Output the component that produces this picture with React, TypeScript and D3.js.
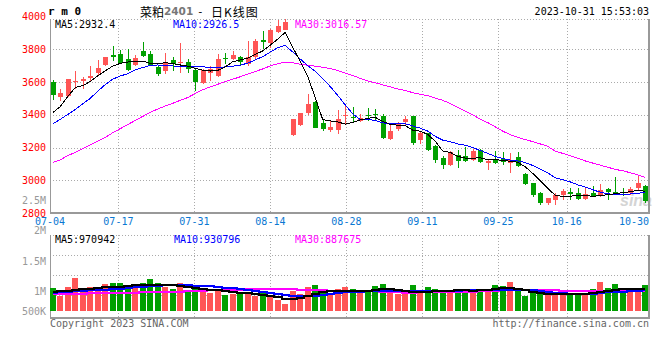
import { useEffect, useRef } from 'react'
import * as d3 from 'd3'

const dates = [
  '07-04', '07-05', '07-06', '07-07', '07-10', '07-11', '07-12', '07-13', '07-14', '07-17',
  '07-18', '07-19', '07-20', '07-21', '07-24', '07-25', '07-26', '07-27', '07-28', '07-31',
  '08-01', '08-02', '08-03', '08-04', '08-07', '08-08', '08-09', '08-10', '08-11', '08-14',
  '08-15', '08-16', '08-17', '08-18', '08-21', '08-22', '08-23', '08-24', '08-25', '08-28',
  '08-29', '08-30', '08-31', '09-01', '09-04', '09-05', '09-06', '09-07', '09-08', '09-11',
  '09-12', '09-13', '09-14', '09-15', '09-18', '09-19', '09-20', '09-21', '09-22', '09-25',
  '09-26', '09-27', '09-28', '10-09', '10-10', '10-11', '10-12', '10-13', '10-16', '10-17',
  '10-18', '10-19', '10-20', '10-23', '10-24', '10-25', '10-26', '10-27', '10-30', '10-31',
]

const open = [
  3600, 3511, 3515, 3598, 3607, 3623, 3653, 3704, 3763, 3771,
  3743, 3702, 3788, 3771, 3690, 3668, 3735, 3714, 3723, 3674,
  3592, 3657, 3637, 3749, 3743, 3753, 3708, 3750, 3855, 3840,
  3907, 3917, 3276, 3337, 3408, 3479, 3347, 3306, 3306, 3390,
  3388, 3361, 3396, 3406, 3392, 3249, 3310, 3358, 3392, 3243,
  3286, 3209, 3134, 3093, 3154, 3148, 3123, 3184, 3107, 3127,
  3127, 3107, 3144, 3038, 2981, 2924, 2859, 2879, 2910, 2926,
  2924, 2883, 2924, 2904, 2944, 2930, 2930, 2920, 2951, 2965,
]
const high = [
  3611, 3556, 3620, 3668, 3633, 3698, 3733, 3755, 3820, 3796,
  3800, 3763, 3845, 3790, 3698, 3776, 3755, 3837, 3739, 3678,
  3682, 3698, 3769, 3780, 3790, 3759, 3850, 3865, 3910, 3922,
  3976, 3982, 3372, 3410, 3524, 3481, 3365, 3361, 3426, 3459,
  3447, 3402, 3439, 3433, 3402, 3351, 3357, 3390, 3394, 3300,
  3290, 3215, 3148, 3178, 3184, 3201, 3193, 3189, 3127, 3180,
  3174, 3168, 3174, 3042, 2985, 2930, 2893, 2920, 2944, 2950,
  2954, 2950, 2962, 2978, 2950, 3020, 2950, 2956, 3032, 2972,
]
const low = [
  3491, 3482, 3511, 3556, 3556, 3607, 3637, 3698, 3729, 3708,
  3668, 3698, 3755, 3698, 3637, 3647, 3668, 3657, 3653, 3546,
  3586, 3607, 3633, 3708, 3735, 3698, 3695, 3740, 3800, 3810,
  3901, 3915, 3270, 3330, 3396, 3317, 3300, 3296, 3284, 3341,
  3351, 3357, 3361, 3365, 3249, 3243, 3300, 3335, 3218, 3219,
  3178, 3107, 3068, 3087, 3077, 3113, 3119, 3107, 3062, 3099,
  3093, 3042, 3083, 2971, 2900, 2849, 2849, 2849, 2879, 2879,
  2879, 2879, 2900, 2900, 2879, 2916, 2904, 2910, 2942, 2862,
]
const close = [
  3519, 3531, 3617, 3604, 3619, 3635, 3688, 3753, 3755, 3714,
  3674, 3749, 3759, 3702, 3647, 3723, 3708, 3723, 3682, 3600,
  3674, 3678, 3739, 3743, 3763, 3723, 3755, 3850, 3846, 3920,
  3942, 3968, 3371, 3408, 3467, 3321, 3310, 3325, 3375, 3396,
  3378, 3382, 3390, 3396, 3255, 3300, 3351, 3374, 3225, 3290,
  3185, 3123, 3093, 3174, 3119, 3119, 3180, 3113, 3117, 3107,
  3113, 3123, 3087, 2977, 2910, 2863, 2889, 2910, 2936, 2916,
  2883, 2916, 2906, 2940, 2930, 2924, 2920, 2948, 2981, 2872,
]

const ma5 = [
  3413, 3450, 3511, 3566, 3578, 3603, 3638, 3668, 3697, 3714,
  3722, 3727, 3727, 3714, 3711, 3718, 3712, 3704, 3697, 3684,
  3672, 3667, 3671, 3692, 3724, 3735, 3745, 3768, 3790, 3825,
  3862, 3903, 3812, 3725, 3633, 3505, 3370, 3362, 3356, 3343,
  3353, 3368, 3378, 3384, 3359, 3341, 3336, 3334, 3306, 3300,
  3280, 3238, 3179, 3170, 3146, 3135, 3135, 3137, 3126, 3125,
  3122, 3116, 3110, 3082, 3042, 2996, 2952, 2907, 2902, 2903,
  2906, 2905, 2903, 2905, 2912, 2918, 2924, 2930, 2938, 2932.4,
]
const ma10 = [
  3345, 3372, 3402, 3432, 3467, 3500, 3544, 3584, 3617, 3637,
  3650, 3675, 3688, 3702, 3704, 3700, 3698, 3695, 3693, 3692,
  3692, 3690, 3688, 3692, 3697, 3703, 3715, 3735, 3755, 3783,
  3810, 3823, 3783, 3740, 3700, 3665, 3620, 3572, 3518, 3460,
  3405, 3370, 3370, 3366, 3350, 3348, 3349, 3345, 3332, 3318,
  3300, 3268, 3245, 3235, 3222, 3214, 3200, 3182, 3164, 3146,
  3132, 3123, 3118, 3108, 3090, 3068, 3045, 3015, 3004, 2990,
  2972, 2958, 2942, 2927, 2918, 2911, 2913, 2916, 2920, 2926.5,
]
const ma30 = [
  3108, 3125, 3150, 3170, 3192, 3215, 3240, 3262, 3290, 3315,
  3340, 3365, 3390, 3415, 3435, 3453, 3470, 3488, 3505, 3530,
  3553, 3570, 3586, 3602, 3617, 3632, 3648, 3664, 3680, 3698,
  3712, 3722, 3718, 3708, 3702, 3697, 3690, 3682, 3670, 3655,
  3640, 3622, 3606, 3596, 3582, 3570, 3558, 3548, 3535, 3525,
  3517, 3502, 3488, 3469, 3446, 3423, 3400, 3372, 3352, 3326,
  3300, 3278, 3262, 3248, 3236, 3222, 3207, 3178, 3164, 3150,
  3134, 3118, 3105, 3092, 3080, 3066, 3058, 3046, 3033, 3016.57,
]

// volume in thousand lots
const volume = [
  1014, 686, 1074, 1491, 940, 1074, 940, 1223, 1253, 1253,
  1163, 1119, 1253, 1432, 1253, 1074, 984, 1253, 910, 984,
  850, 820, 984, 716, 776, 746, 820, 656, 805, 671,
  492, 313, 910, 776, 1074, 1163, 940, 790, 984, 1074,
  984, 865, 940, 1119, 1223, 940, 776, 910, 1163, 865,
  1074, 984, 910, 865, 984, 984, 984, 910, 984, 1163,
  1119, 1298, 940, 686, 850, 940, 716, 820, 895, 790,
  790, 716, 984, 1298, 1029, 1223, 940, 910, 1029, 1163,
]
const volMa5 = [
  865, 880, 910, 954, 969, 999, 1044, 1059, 1059, 1089,
  1119, 1148, 1163, 1178, 1178, 1178, 1163, 1133, 1089, 1044,
  999, 954, 925, 880, 850, 820, 790, 746, 716, 656,
  611, 552, 552, 596, 671, 761, 835, 880, 880, 880,
  880, 895, 910, 940, 969, 969, 940, 880, 850, 835,
  850, 880, 910, 910, 925, 925, 910, 925, 954, 999,
  1014, 1029, 999, 940, 865, 820, 776, 761, 761, 761,
  761, 761, 790, 850, 910, 954, 984, 999, 999, 971,
]
const volMa10 = [
  820, 835, 850, 880, 910, 925, 940, 954, 984, 999,
  1029, 1059, 1089, 1119, 1133, 1148, 1148, 1148, 1148, 1133,
  1119, 1104, 1074, 1044, 1014, 969, 925, 880, 850, 790,
  746, 701, 671, 656, 656, 671, 716, 776, 820, 850,
  865, 865, 880, 880, 895, 910, 910, 910, 910, 910,
  910, 910, 895, 910, 910, 925, 925, 925, 940, 954,
  954, 954, 954, 954, 940, 910, 865, 820, 790, 776,
  761, 761, 776, 805, 835, 850, 865, 880, 895, 931,
]
const volMa30 = [
  761, 761, 776, 776, 776, 790, 790, 790, 805, 805,
  820, 820, 835, 835, 850, 850, 865, 865, 880, 895,
  910, 925, 940, 940, 954, 954, 969, 969, 969, 969,
  969, 969, 969, 954, 954, 940, 925, 910, 895, 880,
  880, 880, 880, 880, 865, 850, 835, 820, 820, 835,
  835, 835, 835, 835, 850, 850, 865, 880, 895, 910,
  925, 925, 925, 925, 925, 925, 925, 925, 910, 895,
  880, 880, 880, 880, 880, 880, 880, 880, 880, 888,
]

const priceTicks = [4000, 3800, 3600, 3400, 3200, 3000, 2800]
const volTicks = [2500, 2000, 1500, 1000, 500]
const volTickLabels = ['2.5M', '2M', '1.5M', '1M', '500K']
const dateTicks = ['07-04', '07-17', '07-31', '08-14', '08-28', '09-11', '09-25', '10-16', '10-30']

const RED = '#ff5555'
const GREEN = '#00a000'
const MONO = '"DejaVu Sans Mono", monospace'
const CJK = '"Noto Sans CJK SC", sans-serif'

export default function App() {
  const svgRef = useRef<SVGSVGElement>(null)

  useEffect(() => {
    if (!svgRef.current) return
    renderChart()
  }, [])

  const renderChart = () => {
    if (!svgRef.current) return
    const width = 660
    const height = 360
    const left = 50
    const right = 649
    const mainTop = 19
    const mainBottom = 213
    const volTop = 235
    const volBottom = 318

    const svg = d3.select(svgRef.current)
    svg.selectAll('*').remove()
    svg.attr('width', width).attr('height', height).attr('viewBox', [0, 0, width, height])

    svg.append('rect').attr('width', width).attr('height', height).attr('fill', '#fff')

    const x = d3.scaleBand<string>().domain(dates).range([49, 649]).padding(0)
    const cx = (i: number) => (x(dates[i]) ?? 0) + x.bandwidth() / 2
    // date grid runs on a slightly wider step than the candles
    const xTick = d3.scaleLinear().domain([0, dates.length - 1]).range([50, 650.4])
    const y = d3.scaleLinear().domain([2800, 4000]).range([213, 16.5])
    const yVol = d3.scaleLinear().domain([0, 1000]).range([311, 288.65])
    const yVolLabel = d3.scaleLinear().domain([1000, 2500]).range([291, 200])

    // watermark
    svg.append('text')
      .text('sina')
      .attr('x', 620)
      .attr('y', 206)
      .attr('fill', '#d4d4d4')
      .attr('font-family', '"Liberation Sans", Arial, sans-serif')
      .attr('font-style', 'italic')
      .attr('font-weight', 700)
      .attr('font-size', '16px')

    // grid
    const grid = svg.append('g')
      .attr('stroke', '#aaa')
      .attr('stroke-dasharray', '1,2')
      .attr('shape-rendering', 'crispEdges')

    grid.append('line').attr('x1', left).attr('x2', right).attr('y1', mainTop + 0.5).attr('y2', mainTop + 0.5)
    priceTicks.slice(1, -1).forEach(v => {
      const yy = Math.round(y(v)) + 0.5
      grid.append('line').attr('x1', left).attr('x2', right).attr('y1', yy).attr('y2', yy)
    })
    grid.append('line').attr('x1', left).attr('x2', right).attr('y1', volTop + 0.5).attr('y2', volTop + 0.5)
    d3.range(1, 4).forEach(k => {
      const yy = volTop + 20 * k + 0.5
      grid.append('line').attr('x1', left).attr('x2', right).attr('y1', yy).attr('y2', yy)
    })
    dateTicks.slice(1, -1).forEach(d => {
      const xx = Math.round(xTick(dates.indexOf(d))) + 0.5
      grid.append('line').attr('x1', xx).attr('x2', xx).attr('y1', mainTop).attr('y2', mainBottom)
      grid.append('line').attr('x1', xx).attr('x2', xx).attr('y1', volTop).attr('y2', volBottom)
    })

    // borders
    const border = svg.append('g').attr('stroke', '#999').attr('shape-rendering', 'crispEdges')
    border.append('line').attr('x1', left + 0.5).attr('x2', left + 0.5).attr('y1', mainTop).attr('y2', mainBottom)
    border.append('line').attr('x1', left + 0.5).attr('x2', left + 0.5).attr('y1', volTop).attr('y2', volBottom)
    border.append('line').attr('x1', right).attr('x2', right).attr('y1', mainTop).attr('y2', mainBottom).attr('stroke-width', 2)
    border.append('line').attr('x1', right).attr('x2', right).attr('y1', volTop).attr('y2', volBottom).attr('stroke-width', 2)
    border.append('line').attr('x1', left).attr('x2', right + 1).attr('y1', mainBottom).attr('y2', mainBottom).attr('stroke-width', 2)
    border.append('line').attr('x1', left).attr('x2', right + 1).attr('y1', volBottom).attr('y2', volBottom).attr('stroke-width', 2)

    // candles
    const candles = svg.append('g').attr('shape-rendering', 'crispEdges')
    dates.forEach((_, i) => {
      const up = close[i] >= open[i]
      const color = up ? RED : GREEN
      const xc = Math.round(cx(i))
      candles.append('line')
        .attr('x1', xc + 0.5).attr('x2', xc + 0.5)
        .attr('y1', y(high[i])).attr('y2', y(low[i]))
        .attr('stroke', color)
      const top = y(Math.max(open[i], close[i]))
      const bot = y(Math.min(open[i], close[i]))
      candles.append('rect')
        .attr('x', xc - 2).attr('width', 5)
        .attr('y', top).attr('height', Math.max(1, bot - top))
        .attr('fill', color)
    })

    // price MAs
    const priceLine = d3.line<number>().x((_, i) => cx(i)).y(d => y(d))
    const maDefs: [number[], string][] = [[ma30, '#ff00ff'], [ma10, '#0000ff'], [ma5, '#000']]
    maDefs.forEach(([data, color]) => {
      svg.append('path')
        .datum(data)
        .attr('d', priceLine)
        .attr('fill', 'none')
        .attr('stroke', color)
        .attr('stroke-width', 1)
        .attr('shape-rendering', 'crispEdges')
    })

    // volume bars
    const bars = svg.append('g').attr('shape-rendering', 'crispEdges')
    dates.forEach((_, i) => {
      const up = close[i] >= open[i]
      const xc = Math.round(cx(i))
      bars.append('rect')
        .attr('x', xc - 3).attr('width', 6)
        .attr('y', yVol(volume[i]))
        .attr('height', yVol(0) - yVol(volume[i]))
        .attr('fill', up ? RED : GREEN)
    })

    const volLine = d3.line<number>().x((_, i) => cx(i)).y(d => yVol(d)).curve(d3.curveStep)
    const volDefs: [number[], string][] = [[volMa30, '#ff00ff'], [volMa10, '#0000ff'], [volMa5, '#000']]
    volDefs.forEach(([data, color]) => {
      svg.append('path')
        .datum(data)
        .attr('d', volLine)
        .attr('fill', 'none')
        .attr('stroke', color)
        .attr('stroke-width', 2)
        .attr('shape-rendering', 'crispEdges')
    })

    // texts
    const text = (s: string, tx: number, ty: number, color: string, anchor = 'start') =>
      svg.append('text')
        .text(s)
        .attr('x', tx)
        .attr('y', ty)
        .attr('fill', color)
        .attr('text-anchor', anchor)
        .attr('dominant-baseline', 'central')
        .attr('font-family', MONO)
        .attr('font-size', '10px')

    priceTicks.forEach(v => text(String(v), 46, y(v), '#ff0000', 'end'))
    volTicks.forEach((v, i) => text(volTickLabels[i], 46, Math.min(yVolLabel(v) + 0.5, 311), '#999', 'end'))

    dateTicks.forEach(d => {
      const xx = Math.min(xTick(dates.indexOf(d)), right - 15)
      text(d, xx, 221.5, '#0a78d2', 'middle')
    })

    text('MA5:2932.4', 55, 24.5, '#000')
    text('MA10:2926.5', 173, 24.5, '#0000ff')
    text('MA30:3016.57', 295, 24.5, '#ff00ff')
    text('MA5:970942', 55, 239, '#000')
    text('MA10:930796', 174, 239, '#0000ff')
    text('MA30:887675', 295, 239, '#ff00ff')

    text('2023-10-31 15:53:03', right, 11.5, '#000', 'end')
    text('r m 0', 48, 11.5, '#000').attr('font-weight', 700).attr('font-size', '11px')

    const title = svg.append('text').attr('y', 11).attr('dominant-baseline', 'central').attr('fill', '#000')
    title.append('tspan').attr('x', 140).attr('font-family', CJK).attr('font-size', '12px').text('菜粕')
    title.append('tspan').attr('x', 164).attr('font-family', '"DejaVu Sans", sans-serif')
      .attr('font-weight', 700).attr('font-size', '10.5px').attr('fill', '#777').text('2401')
    title.append('tspan').attr('x', 197).attr('font-family', MONO).attr('font-size', '11px').text('-')
    title.append('tspan').attr('x', 211).attr('font-family', CJK).attr('font-size', '12px')
      .attr('letter-spacing', '1px').text('日K线图')

    text('Copyright 2023 SINA.COM', 50, 323, '#666')
    text('http://finance.sina.com.cn', right, 323, '#666', 'end')
  }

  return (
    <svg ref={svgRef} style={{ position: 'absolute', left: 0, top: 0, display: 'block' }}></svg>
  )
}
